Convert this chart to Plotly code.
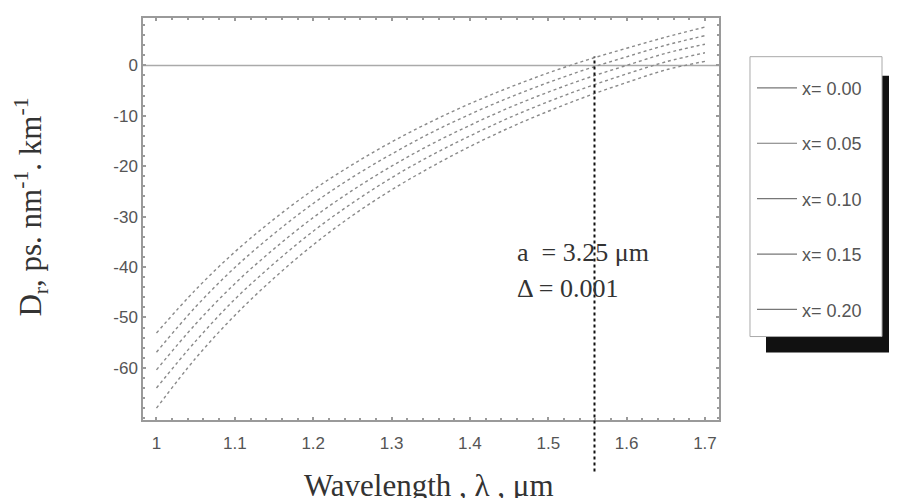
import plotly.graph_objects as go

# ---- data ----
wavelength = [1.00, 1.05, 1.10, 1.15, 1.20, 1.25, 1.30, 1.35, 1.40, 1.45, 1.50, 1.55, 1.60, 1.65, 1.70]
d_x000 = [-53.1, -44.5, -37.0, -30.5, -24.7, -19.7, -15.2, -11.2, -7.6, -4.4, -1.5, 1.1, 3.4, 5.6, 7.6]
d_x005 = [-56.9, -47.9, -40.1, -33.4, -27.4, -22.2, -17.6, -13.4, -9.7, -6.4, -3.4, -0.7, 1.7, 4.0, 5.9]
d_x010 = [-60.4, -51.3, -43.3, -36.4, -30.2, -24.8, -20.0, -15.7, -11.9, -8.4, -5.3, -2.5, 0.0, 2.4, 4.2]
d_x015 = [-64.0, -54.7, -46.4, -39.3, -32.9, -27.3, -22.3, -17.9, -14.0, -10.4, -7.2, -4.3, -1.7, 0.7, 2.5]
d_x020 = [-68.0, -58.1, -49.6, -42.2, -35.6, -29.8, -24.7, -20.2, -16.1, -12.4, -9.1, -6.1, -3.4, -0.9, 0.8]
series = [d_x000, d_x005, d_x010, d_x015, d_x020]
series_labels = ["x= 0.00", "x= 0.05", "x= 0.10", "x= 0.15", "x= 0.20"]
x_ticks = [1.0, 1.1, 1.2, 1.3, 1.4, 1.5, 1.6, 1.7]
x_tick_text = ["1", "1.1", "1.2", "1.3", "1.4", "1.5", "1.6", "1.7"]
y_ticks = [0, -10, -20, -30, -40, -50, -60]
y_tick_text = ["0", "-10", "-20", "-30", "-40", "-50", "-60"]
marker_wavelength = 1.559
note_lines = ["a  = 3.25 μm", "Δ = 0.001"]

curve_color = "#8a8a8a"
axis_color = "#9a9a9a"

fig = go.Figure()
for vals, lab in zip(series, series_labels):
    fig.add_trace(go.Scatter(
        x=wavelength, y=vals, mode="lines", line=dict(color=curve_color, width=1.4, dash="dot", shape="spline"),
        showlegend=False, hoverinfo="skip"))
# legend entries (solid samples, as in the reference legend)
for lab in series_labels:
    fig.add_trace(go.Scatter(
        x=[None], y=[None], mode="lines", name=lab, legendgroup=lab,
        line=dict(color="#777777", width=1.2)))

axis_common = dict(
    showline=True, linecolor=axis_color, linewidth=1.5, mirror="ticks",
    ticks="inside", ticklen=3, tickcolor=axis_color, tickwidth=1.5,
    showgrid=False, zeroline=False,
    tickfont=dict(family="Arial, Liberation Sans", size=17, color="#555555"),
)
fig.update_xaxes(range=[0.9828, 1.7179], tickvals=x_ticks, ticktext=x_tick_text,
                 ticklabelstandoff=7,
                 minor=dict(dtick=0.02, ticks="inside", ticklen=2, tickcolor=axis_color, tick0=1.0),
                 **axis_common)
fig.update_yaxes(range=[-70.35, 9.4], tickvals=y_ticks, ticktext=y_tick_text,
                 minor=dict(dtick=2, ticks="inside", ticklen=2, tickcolor=axis_color, tick0=0),
                 **axis_common)

shapes = [
    # zero line
    dict(type="line", xref="paper", yref="y", x0=0, x1=1, y0=0, y1=0,
         line=dict(color="#aaaaaa", width=1.5), layer="below"),
    # vertical dashed marker
    dict(type="line", xref="x", yref="paper", x0=marker_wavelength, x1=marker_wavelength,
         y0=-0.128, y1=0.904, line=dict(color="#111111", width=2, dash="3px,3px")),
    # legend shadow
    dict(type="rect", xref="paper", yref="paper", x0=1.0816, x1=1.34, y0=0.1678, y1=0.8565,
         fillcolor="#111111", line=dict(width=0)),
    # legend box
    dict(type="rect", xref="paper", yref="paper", x0=1.0538, x1=1.283, y0=0.2076, y1=0.9038,
         fillcolor="white", line=dict(color="#aaaaaa", width=1)),
]

serif = "Liberation Serif, Times New Roman"
annotations = [
    dict(text=note_lines[0], xref="x", yref="y", x=1.458, y=-37.1, xanchor="left", yanchor="middle",
         showarrow=False, font=dict(family=serif, size=26, color="#333333")),
    dict(text=note_lines[1], xref="x", yref="y", x=1.458, y=-44.3, xanchor="left", yanchor="middle",
         showarrow=False, font=dict(family=serif, size=26, color="#333333")),
    dict(text="D<sub>r</sub>, ps. nm<sup>-1</sup>. km<sup>-1</sup>", xref="paper", yref="paper",
         x=(31 - 143) / 576, y=(420.5 - 208) / 402.2, xanchor="center", yanchor="middle",
         textangle=-90, showarrow=False,
         font=dict(family=serif, size=31, color="#333333")),
    dict(text="Wavelength , λ , μm", xref="paper", yref="paper",
         x=(429 - 143) / 576, y=(420.5 - 486) / 402.2, xanchor="center", yanchor="middle",
         showarrow=False, font=dict(family=serif, size=31, color="#333333")),
]

# the page body adds an 8px offset, so the figure is resized and margins shifted to keep
# the plot area where the reference has it
fig.update_layout(
    width=889, height=490,
    margin=dict(l=135, r=178, t=10, b=77.5, autoexpand=False),
    paper_bgcolor="white", plot_bgcolor="white",
    shapes=shapes, annotations=annotations,
    legend=dict(x=(752 - 143) / 576, y=(420.5 - 70) / 402.2, xanchor="left", yanchor="top",
                bgcolor="rgba(0,0,0,0)", borderwidth=0, tracegroupgap=29, itemwidth=40,
                font=dict(family="Arial, Liberation Sans", size=18, color="#555555")),
)

fig.write_html("out.html")
